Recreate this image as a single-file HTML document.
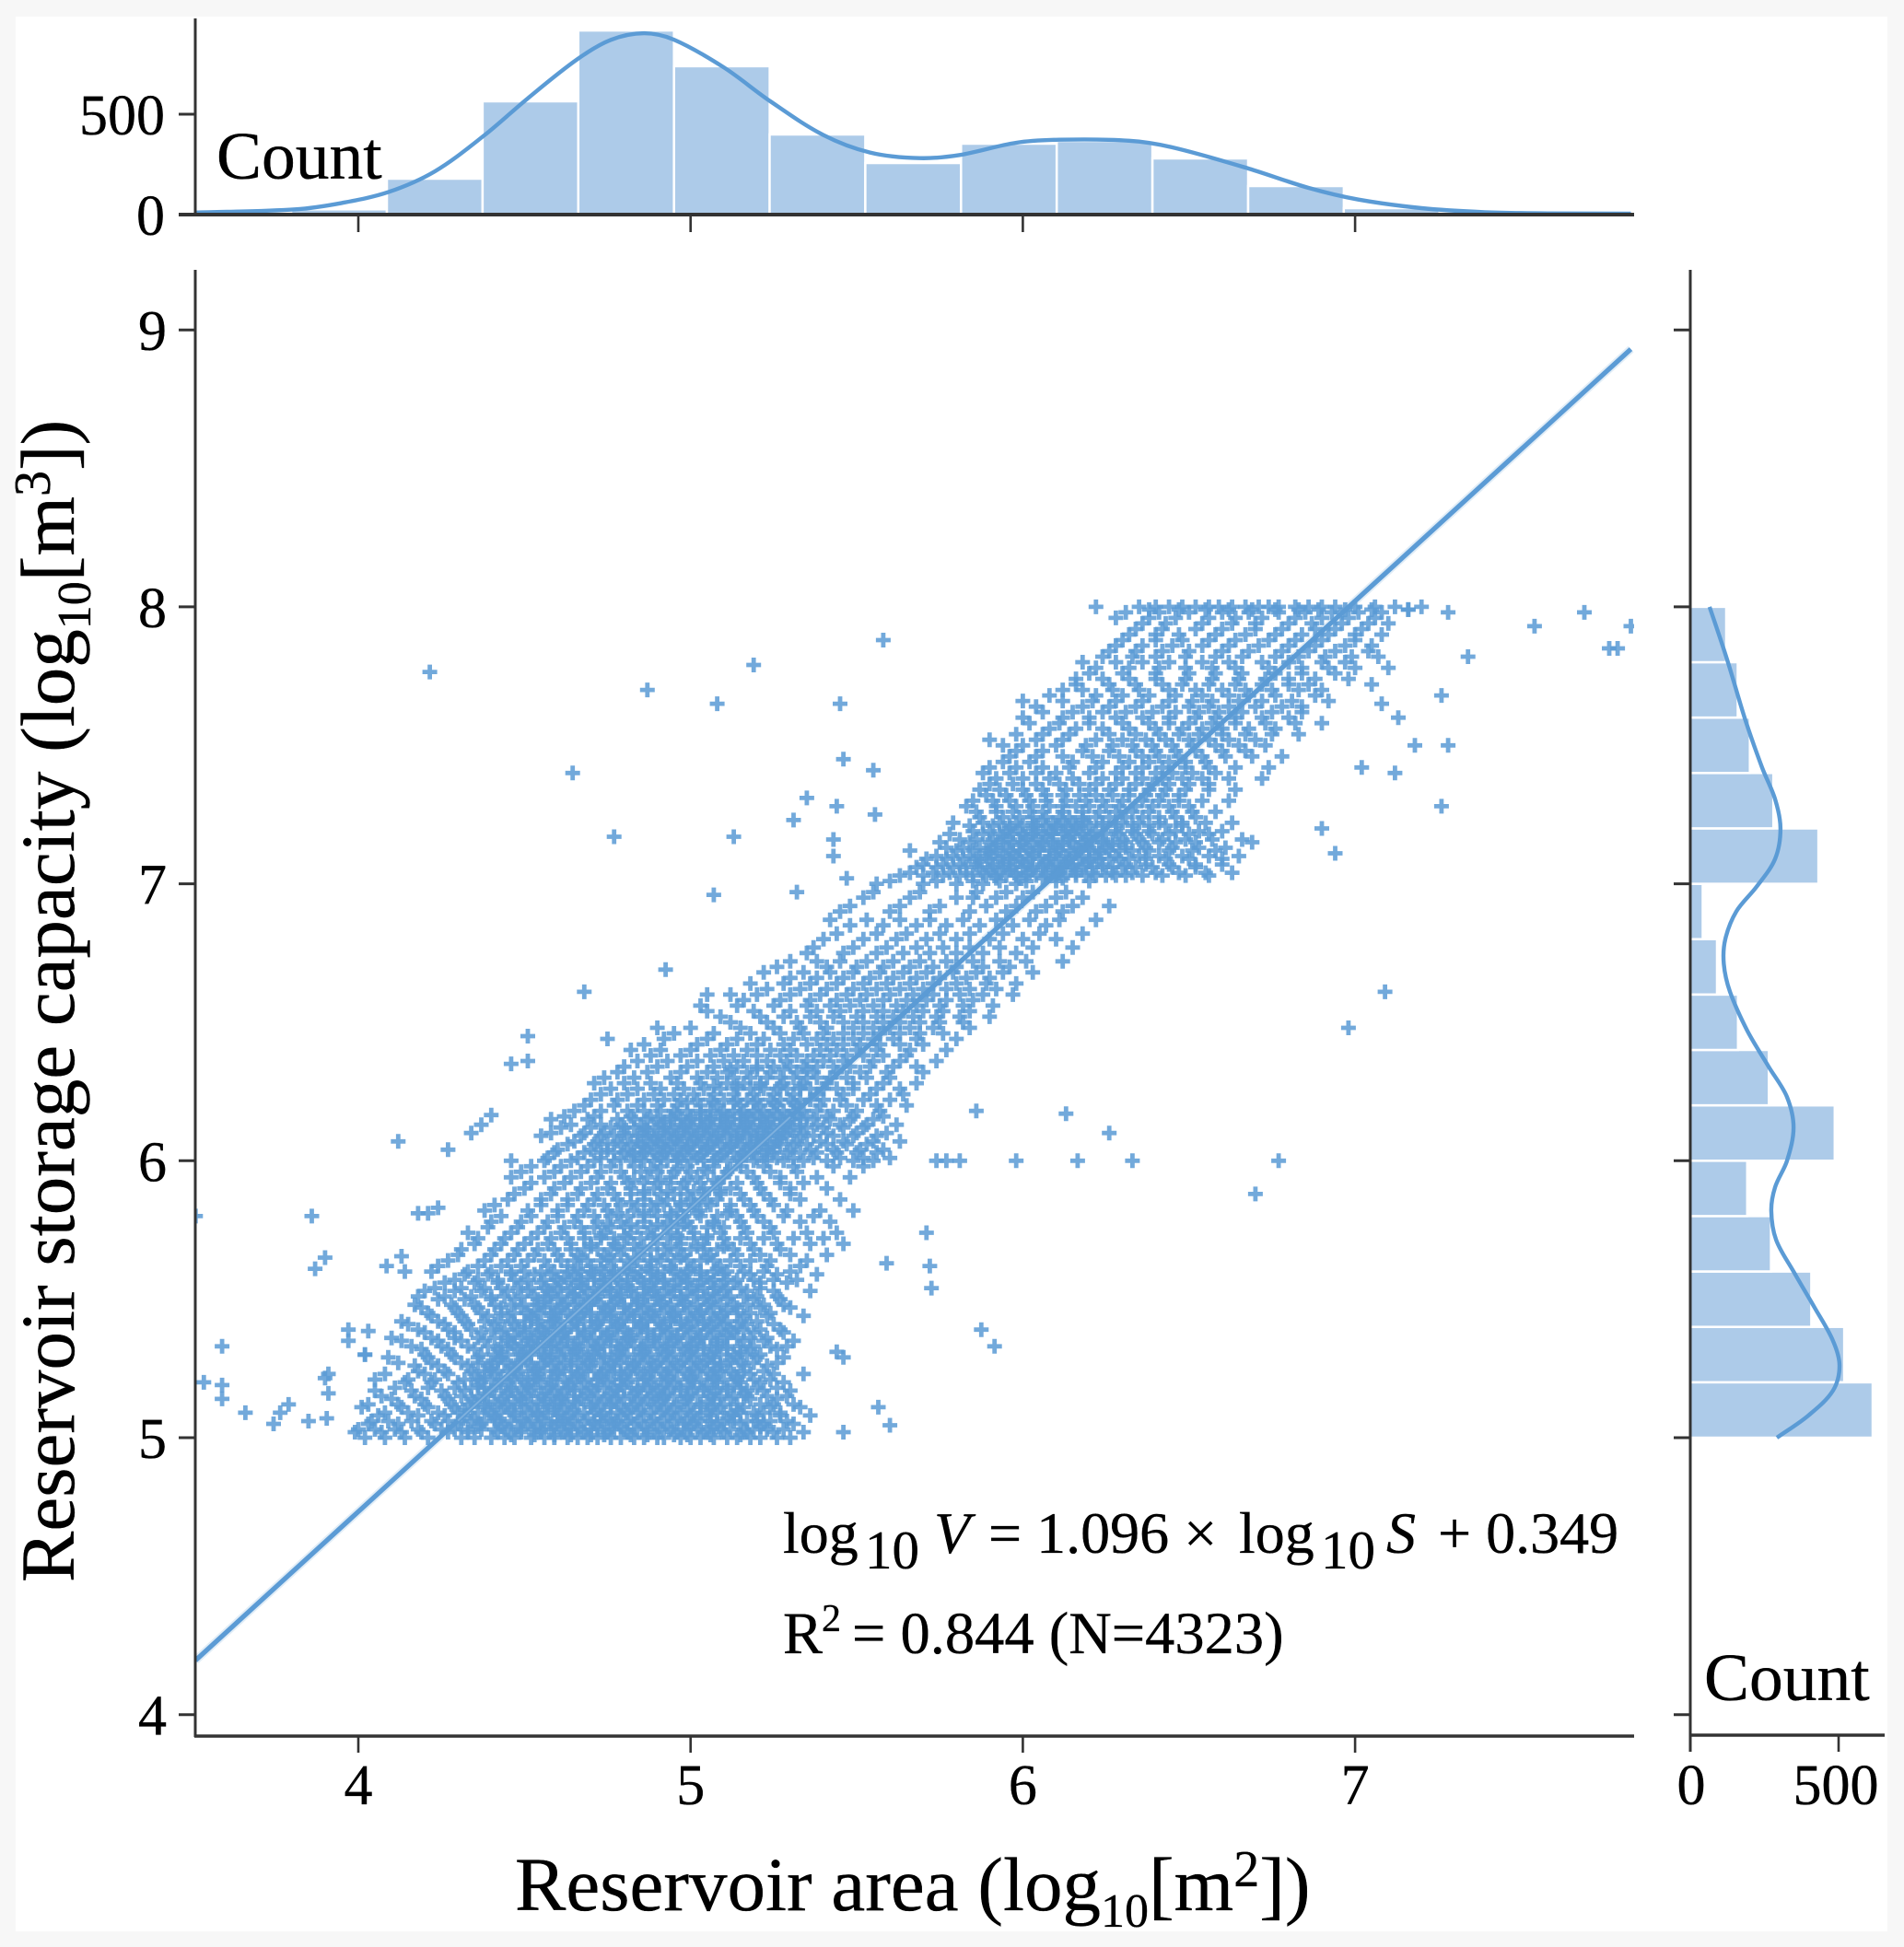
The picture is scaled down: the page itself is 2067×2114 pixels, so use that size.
<!DOCTYPE html>
<html lang="en">
<head>
<meta charset="utf-8">
<title>Reservoir area vs storage capacity</title>
<style>
html,body{margin:0;padding:0;background:#f7f7f7;}
svg{display:block;}
text{font-family:"Liberation Serif","DejaVu Serif",serif;fill:#000;stroke:#000;stroke-width:0.35px;}
</style>
</head>
<body>
<svg id="chart" xmlns="http://www.w3.org/2000/svg" width="2067" height="2114" viewBox="0 0 2067 2114">
  <rect x="0" y="0" width="2067" height="2114" fill="#f7f7f7"/>
  <rect x="17" y="18" width="2032" height="2079" fill="#ffffff"/>
  <defs>
    <clipPath id="main-clip"><rect x="212" y="293" width="1562" height="1592"/></clipPath>
  </defs>
  <g id="top-bars"></g>
  <g id="right-bars"></g>
  <g id="scatter" clip-path="url(#main-clip)"></g>
  <g id="fit" clip-path="url(#main-clip)"></g>
  <g id="kde"></g>
  <g id="axes"></g>

  <text x="235" y="194" font-size="73.5">Count</text>
  <text x="1850" y="1846" font-size="73.5">Count</text>

  <text x="559" y="2074" font-size="83">Reservoir area (log<tspan dy="18" font-size="52">10</tspan><tspan dy="-18">[m</tspan><tspan dy="-26" font-size="56">2</tspan><tspan dy="26">])</tspan></text>
  <text transform="translate(80,1718) rotate(-90)" font-size="83">Reservoir storage capacity (log<tspan dy="18" font-size="52">10</tspan><tspan dy="-18">[m</tspan><tspan dy="-26" font-size="56">3</tspan><tspan dy="26">])</tspan></text>

  <g font-size="64">
    <text x="850" y="1686">log</text>
    <text x="939" y="1703" font-size="59">10</text>
    <text x="1014" y="1686" font-style="italic">V</text>
    <text x="1073" y="1686">= 1.096 ×</text>
    <text x="1345" y="1686">log</text>
    <text x="1434" y="1703" font-size="59">10</text>
    <text x="1505" y="1686" font-style="italic">S</text>
    <text x="1561" y="1686">+ 0.349</text>
  </g>
  <g font-size="64.5">
    <text x="850" y="1795">R</text>
    <text x="892" y="1771" font-size="42">2</text>
    <text x="925" y="1795">= 0.844 (N=4323)</text>
  </g>
</svg>

<script>
// ---- Histogram counts ----
const topBinStart = 3.51;
const topBinWidth = 0.288;
const topCounts = [4, 26, 179, 564, 917, 739, 399, 257, 353, 367, 280, 142, 32, 6, 2];
const rightBinStart = 5.0;
const rightBinWidth = 0.2;
const rightCounts = [615, 519, 408, 272, 192, 487, 265, 161, 90, 42, 432, 280, 201, 160, 121];

// ---- KDE curves ----
const topKdeX = [3.51,3.81,3.95,4.09,4.23,4.38,4.51,4.66,4.76,4.86,4.95,5.10,5.24,5.40,5.54,5.69,5.81,5.98,6.11,6.32,6.45,6.68,6.86,7.01,7.20,7.39,7.58,7.83];
const topKdeCount = [10,26,58,112,215,396,579,775,870,903,871,733,564,396,309,281,297,358,373,368,335,229,133,75,32,12,6,5];
const rightKdeY = [8.0,7.81,7.59,7.42,7.305,7.20,7.09,6.99,6.90,6.80,6.71,6.61,6.47,6.34,6.23,6.12,6.0,5.905,5.82,5.715,5.60,5.47,5.35,5.26,5.17,5.08,5.0];
const rightKdeCount = [65,124,186,242,286,304,286,224,155,118,113,134,192,264,326,348,326,286,273,289,348,419,481,503,481,398,292];

// ---- Regression as printed in the figure ----
const fitSlope = 1.096;
const fitIntercept = 0.349;

// ---- Tick labels ----
const mainXTicks = [4, 5, 6, 7];
const mainYTicks = [4, 5, 6, 7, 8, 9];
const topYTicks = [0, 500];
const rightXTicks = [0, 500];

// ---- Scattered outliers (log10 area, log10 capacity) ----
const outlierX = [4.215,4.87,5.08,5.19,5.58,5.45,5.46,5.55,4.645,5.35,5.44,5.555,4.77,5.13,5.31,5.43,5.43,5.07,5.32,5.47,4.925,4.68,5.05,4.75,4.51,4.51,4.46,7.09,6.98,6.77,6.70,6.33,6.26,6.13,6.165,5.98,5.86,5.74,5.77,5.81,5.71,5.72,5.725,5.59,5.875,5.915,5.565,5.60,5.46,5.46,5.44,3.51,3.86,3.90,3.87,3.59,3.535,3.59,3.59,3.66,3.745,3.765,3.79,3.85,3.91,3.91,3.90,3.905,3.97,4.03,3.97,4.02,4.12,4.085,4.13,4.14,4.18,4.21,4.24,4.18,4.27,4.34,4.40,4.37,7.54,7.69,7.765,7.79,7.83,7.34,7.28,7.20,7.16,7.26,7.08,7.28,7.18,7.12,7.26,7.02,6.94,6.90,6.69,7.05,7.10,7.13];
const outlierY = [7.765,7.70,7.65,7.79,7.88,7.65,7.45,7.41,7.40,7.31,7.28,7.25,7.17,7.17,7.23,7.16,7.10,6.96,6.97,7.02,6.69,6.61,6.60,6.44,6.45,6.36,6.35,6.61,6.48,6.00,5.88,6.00,6.10,6.17,6.00,6.00,6.18,6.00,6.00,6.00,5.74,5.62,5.54,5.63,5.39,5.33,5.11,5.045,5.02,5.29,5.31,5.80,5.80,5.65,5.61,5.33,5.20,5.19,5.14,5.09,5.05,5.09,5.12,5.06,5.16,5.23,5.215,5.07,5.39,5.385,5.35,5.30,6.07,5.62,5.655,5.60,5.51,5.81,5.83,5.81,6.04,6.10,6.165,6.13,7.93,7.98,7.85,7.85,7.93,7.82,7.98,8.00,7.99,7.68,7.65,7.50,7.50,7.40,7.28,7.42,7.11,7.20,7.15,7.72,7.78,7.60];

// ---- Main point cloud, first pass: capacity levels (hundredths of log10 units) ----
const scatterLevels = [500,503,506,509,512,515,518,521,524,527,530,533,536,539,542,545,548,551,554,557,560,564,568,572,576,580,584,588,592,596,600,603,606,609,612,615,618,622,626,630,634,638,642,646,650,654,658,662,666,670,675,680,685,690,695,700,703,706,709,712,715,718,721,724,728,732,736,740,744,748,752,756,760,764,768,772,776,780,784,788,792,796,800];
// ---- Area estimates at each capacity level (hundredths of log10 units) ----
const scatterAreas = [
[402,408,414,421,431,435,440,444,447,452,456,459,463,466,469,472,476,479,483,486,490,492,497,500,503,507,511,514,518,521,526,530],
[400,405,411,418,425,429,433,437,441,445,449,453,455,458,461,464,467,470,474,477,480,484,487,491,494,498,502,505,509,512,516,519,523,528],
[404,409,416,422,427,431,434,438,442,446,450,452,456,460,462,465,468,471,473,476,478,481,485,488,492,495,499,503,506,510,513,517,520,524,529],
[408,415,424,430,436,440,443,447,451,454,457,461,464,468,471,474,478,481,484,488,491,494,497,501,505,508,512,515,519,522,527],
[403,412,420,428,433,438,442,445,449,452,456,459,463,466,470,473,476,479,483,486,490,493,496,500,503,507,510,514,521,525,531],
[407,417,426,431,436,439,444,448,451,455,458,461,465,468,472,475,478,482,485,488,492,495,499,502,506,509,513,517,523,529],
[411,421,429,434,438,441,446,449,453,457,460,463,467,470,474,477,480,484,487,491,494,497,501,504,508,511,515,520,526],
[405,415,423,432,436,440,443,447,451,454,458,462,465,469,472,476,479,482,486,489,493,496,500,503,507,510,514,519,524],
[418,426,434,438,442,445,449,453,456,460,464,467,471,474,477,481,484,488,491,495,498,502,505,509,512,516,522],
[412,422,431,436,440,444,448,451,455,459,462,466,469,473,476,479,483,486,490,493,497,500,504,507,511,515,519,526],
[402,420,428,437,441,445,449,452,456,460,464,467,471,474,478,481,485,488,492,495,499,502,506,509,513,517,521],
[416,425,433,439,443,447,451,454,458,461,465,469,472,476,479,483,486,490,493,497,500,504,508,511,515,519,524,529],
[410,422,429,436,441,445,449,453,456,460,463,467,471,474,478,481,485,489,492,496,499,503,506,510,514,518,523],
[418,427,434,440,444,448,452,455,459,462,466,470,473,477,480,484,487,491,494,498,502,505,509,512,516,521,527],
[413,424,432,438,442,446,450,454,458,461,465,468,472,476,479,483,486,490,494,497,501,504,508,511,515,520],
[421,430,437,443,447,451,455,459,463,467,470,474,477,481,485,488,492,495,499,503,506,510,514,518,524],
[417,428,435,441,446,450,454,458,462,465,469,473,476,480,484,487,491,494,498,502,505,509,513,517,522,528],
[426,434,440,444,449,453,457,461,465,468,472,476,479,483,487,490,494,497,501,505,508,512,516,520,526],
[423,431,438,443,448,452,456,460,464,468,471,475,478,482,486,489,493,497,500,504,507,511,515,521],
[429,436,442,447,451,456,460,464,467,471,474,478,481,485,489,492,496,499,503,507,510,514,519,525,532],
[422,433,440,446,450,455,459,463,467,470,474,477,481,485,488,492,495,499,503,507,511,516,522,530],
[427,438,445,451,456,461,465,469,473,477,481,484,488,491,495,499,503,507,512,518,524,535],
[431,441,448,454,459,464,468,472,476,480,484,488,492,496,500,504,508,513,519,527],
[436,444,452,458,463,468,473,477,481,485,489,493,497,501,505,510,515,522,531,540],
[439,448,456,462,467,471,476,480,484,488,492,496,500,505,510,516,524],
[443,452,460,466,471,476,481,486,490,494,498,503,508,514,520,528,537],
[441,455,463,469,474,479,484,488,492,497,501,506,512,518,525],
[447,458,466,472,477,482,486,491,495,499,504,509,515,522,530],
[452,462,470,476,481,486,490,494,498,503,508,514,520,527,534],
[449,459,467,473,479,485,490,495,500,505,511,517,524,532],
[446,456,464,471,477,482,486,489,493,496,500,504,507,511,515,519,523,528,534,541,549,555],
[459,468,473,477,480,483,486,489,492,495,498,501,504,507,510,513,516,519,522,525,529,533,538,544,550,556],
[463,471,475,479,482,485,488,491,494,497,500,503,506,509,512,515,518,521,524,527,531,535,541,547,553],
[455,467,473,477,481,484,487,490,493,496,499,502,505,508,511,514,517,520,523,526,529,533,537,543,549,556],
[461,470,476,480,483,486,489,492,495,498,501,504,507,510,513,516,519,522,525,528,531,535,540,546,552],
[458,469,478,483,487,490,494,497,500,503,506,509,512,515,518,521,524,527,530,533,537,542,548,555],
[465,473,481,486,491,495,499,503,506,510,513,516,519,522,525,528,531,534,538,543,550,557],
[470,478,486,492,497,502,506,510,514,517,520,524,527,530,533,536,540,545,552,560],
[476,484,491,498,504,509,514,518,522,526,529,533,536,540,544,549,556,563],
[474,483,494,502,508,513,518,523,527,531,535,538,542,547,553,560],
[480,490,499,507,514,520,525,530,534,538,543,548,554,561,568],
[488,497,506,513,520,527,532,537,542,547,552,558,565],
[486,502,511,520,528,535,541,546,551,557,563,570],
[495,507,518,527,534,540,546,552,557,563,569,576],
[512,523,532,539,546,552,558,563,569,575,582],
[505,519,530,538,545,552,558,564,570,576,584],
[516,527,536,544,551,558,565,571,577,585],
[523,533,541,549,556,563,570,577,584,592],
[530,538,546,554,561,568,575,583,590],
[526,541,550,558,566,573,580,588,596],
[535,546,556,564,572,580,588,598],
[540,552,562,571,580,590,600,610],
[548,558,568,577,587,597,607],
[545,560,572,584,595,604,612],
[552,566,580,592,585,600,610,618],
[556,570,580,588,598],
[563,570,576,581,585,589,592,595,598,601,604,607,610,613,616,619,622,625,628,631,636,642,649,656],
[568,574,579,583,587,591,594,597,600,603,606,609,612,615,618,621,624,627,630,634,639,645,652],
[571,577,582,586,590,593,596,599,602,605,608,611,614,617,620,623,626,629,632,637,643,650,660],
[566,580,585,589,592,596,599,602,605,608,611,614,617,620,623,626,629,633,638,644,651,658],
[575,584,590,594,597,600,603,606,609,612,615,618,621,624,627,631,636,641,646,652],
[578,588,593,597,600,603,606,609,612,615,618,621,625,629,634,639,644,650,656],
[584,591,596,600,604,607,610,613,616,620,624,628,633,638,643,648],
[587,594,599,603,607,611,614,618,622,626,631,636,641,646,652],
[583,592,598,603,608,612,616,620,625,629,634,639,644,650],
[589,595,601,607,612,617,622,627,632,637,642,647],
[590,597,604,611,617,622,628,634,639,644,650,656],
[588,596,604,610,620,628,634,640,645,651,658],
[594,602,615,624,632,638,644,649,655],
[598,606,618,626,634,640,646,652,660,667],
[590,604,612,622,630,637,643,650,656,662,670],
[608,616,624,632,640,648,654,660,668,676],
[600,612,620,628,636,644,652,658,664,672,680],
[604,618,626,634,642,650,656,662,670,678,684],
[608,622,630,638,646,654,662,668,676,688],
[616,626,634,642,648,656,664,672,680,686],
[620,630,640,650,658,666,676,684,694],
[618,628,636,644,654,662,672,680,690,697],
[626,634,642,650,660,668,678,686,694,704],
[630,640,648,656,664,674,682,690,700],
[634,642,652,660,670,678,688,694,702],
[628,638,646,656,664,672,682,690,698,706],
[622,635,640,644,648,652,656,659,663,667,671,674,677,682,686,690,694,700,706,712]
];

// ---- Main point cloud, second pass: each row is [capacity level, then areas], in hundredths ----
const scatterRowsB = [
[502,399,407,413,419,427,433,442,449,455,462,468,475,481,489,496,504,510,517,525,534],
[505,403,412,423,430,437,444,451,458,463,471,477,483,490,498,501,508,515,522,531],
[508,406,418,426,432,441,447,454,460,466,473,479,486,493,500,506,513,520,527,536],
[511,401,413,421,429,438,444,450,457,462,470,476,482,489,495,503,509,516,524,533],
[514,410,419,427,434,443,449,456,461,467,474,480,487,492,499,507,512,518,526],
[517,405,416,425,432,440,446,452,459,465,471,478,484,490,497,504,511,517,522,530],
[520,414,422,430,437,445,450,455,463,468,475,481,488,495,501,508,515,521,528],
[523,408,420,427,435,441,448,454,460,466,473,479,485,492,499,506,513,518,525,534],
[526,417,424,433,439,446,452,458,464,470,477,483,489,496,503,509,516,523],
[529,409,421,429,436,443,450,456,461,468,474,480,487,494,501,507,514,520,528],
[532,419,427,435,442,448,455,462,466,472,479,485,491,498,504,511,518,526],
[535,413,424,431,438,445,451,457,463,470,476,482,489,495,502,508,516,522,531],
[538,420,429,437,443,450,456,462,468,475,481,487,493,500,507,513,519,528],
[541,415,426,433,441,447,454,460,466,472,478,485,491,497,504,510,517,525],
[544,422,431,439,445,452,458,464,470,476,483,489,495,502,509,516,523,534],
[547,419,429,436,443,449,456,461,467,474,480,486,493,500,507,514,521,530],
[550,424,432,440,447,454,460,466,471,478,484,490,497,504,511,519,527],
[553,420,429,437,445,451,457,463,469,476,482,489,495,502,510,517,525,536],
[556,426,435,442,449,455,461,466,473,479,486,492,499,506,513,521,529],
[559,432,439,446,453,458,465,471,477,483,490,497,503,510,518,526,538],
[562,424,436,443,449,457,463,470,476,482,488,494,501,509,515,523,533],
[566,430,440,447,453,460,466,474,479,486,493,498,506,514,521,530,541],
[570,435,443,450,457,464,470,477,483,490,497,504,511,518,526,536,546],
[574,433,446,454,461,468,474,482,487,494,501,509,517,525,535,544],
[578,440,449,457,465,472,479,486,493,499,507,515,522,533,542],
[582,438,451,460,468,475,483,489,496,503,512,519,529,539,549],
[586,445,455,463,471,478,486,493,500,508,516,524,533,545],
[590,450,459,467,475,482,489,497,504,512,521,530,541],
[594,446,456,464,472,480,487,494,502,510,519,527,538,548],
[598,452,461,469,476,483,491,499,507,515,522,531,543,552],
[601,457,466,473,479,485,491,497,502,508,514,520,526,531,537,545,552,560],
[604,460,470,475,481,487,493,499,505,511,517,523,530,536,543,551,558],
[607,465,472,478,484,490,496,502,508,514,520,526,532,539,546,555,563],
[610,458,468,474,480,486,492,498,504,510,516,522,528,534,541,550,559],
[613,464,473,479,485,491,497,503,509,515,521,527,533,538,545,553,562],
[616,462,471,482,488,494,500,506,511,517,523,529,535,541,549,558],
[620,468,477,484,490,496,503,508,515,521,526,532,539,547,556,565],
[624,473,481,489,495,501,507,513,519,525,531,538,546,554,564],
[628,471,480,488,496,503,511,516,521,528,534,541,549,558,568],
[632,478,487,497,505,511,517,524,532,537,544,551,559,570],
[636,484,493,502,510,516,523,529,535,540,546,555,563,574],
[640,482,491,500,509,517,524,530,539,544,550,556,566,577],
[644,492,505,514,522,531,538,543,549,555,561,568,580],
[648,490,500,515,525,533,541,549,555,560,566,573,584],
[652,509,521,528,536,543,550,556,561,567,574,581,590],
[656,503,514,525,535,542,548,555,562,568,575,582,591],
[660,512,520,530,539,547,553,560,567,573,581,588,597],
[664,518,528,536,544,552,559,566,573,580,589,598],
[668,522,534,542,549,557,564,571,579,586,594,603],
[672,530,538,545,553,561,569,577,585,593,601,612],
[677,537,549,559,568,576,584,593,603,615],
[682,544,556,565,575,584,594,605,618],
[687,542,553,563,572,582,592,602,611,622],
[692,548,563,575,589,598,607,615,626],
[697,555,569,586,595,603,613],
[701,560,574,585,593,601,610,620],
[704,566,573,578,583,588,593,598,602,607,611,616,621,627,633,640,647,655,663],
[707,570,576,581,586,591,596,601,606,610,615,619,624,631,637,644,652,660],
[710,574,579,584,589,594,598,603,608,613,618,622,628,635,641,648,656,665],
[713,577,582,587,591,595,601,605,610,616,620,625,631,637,645,653,661],
[716,581,586,591,596,601,604,609,614,619,624,630,635,642,649,657,666],
[719,585,590,595,599,604,608,613,617,622,628,633,638,646,653,660],
[722,579,588,593,598,603,609,615,619,624,630,635,641,648,655,663],
[726,586,592,597,602,606,612,618,623,628,633,638,645,651,658],
[730,585,591,596,602,607,613,619,624,630,636,641,647,654,662],
[734,587,593,600,606,613,620,626,632,638,643,649,656,664],
[738,592,600,608,615,624,630,636,642,648,654,662,672],
[742,590,598,606,614,622,630,636,642,649,656,664,674],
[746,596,604,612,621,629,636,641,647,654,661,669,678],
[750,594,600,610,619,627,633,639,645,651,658,665,673],
[754,598,606,614,626,634,641,647,653,660,667,675,683],
[758,602,611,620,630,638,644,650,657,664,673,682,690],
[762,606,615,624,631,639,646,653,659,666,675,684],
[766,600,612,621,628,636,644,651,657,665,672,681,692],
[770,612,618,627,635,644,652,660,667,675,683,690],
[774,616,624,632,640,649,657,665,673,680,688,698],
[778,622,632,641,649,657,664,674,684,692,700],
[782,624,633,640,649,658,666,676,683,691,699,707],
[786,628,636,645,654,662,671,680,688,697,705],
[790,632,640,647,658,667,676,684,692,700,708],
[794,636,643,654,663,670,680,687,696,704,710],
[798,631,641,650,660,668,677,685,693,701,708],
[799,638,647,655,662,669,676,683,689,697,705,716]
];

// ---- Main point cloud, third pass over the dense clusters: [capacity level, then areas], in hundredths ----
const scatterRowsC = [
[501,446,453,459,464,470,474,482,487,495,499,506,515],
[504,436,443,448,454,459,466,472,479,486,493,500,507,521],
[507,435,441,449,455,463,469,475,482,489,496,502,511],
[510,432,439,446,453,459,465,472,480,485,492,499,506,514],
[513,435,441,447,454,460,465,471,477,484,491,498,505],
[516,438,445,450,456,462,469,476,483,489,493,500,507,516],
[519,436,443,451,458,464,472,479,486,492,499,505,513],
[522,438,446,453,459,466,473,480,487,493,500,507,514],
[525,440,447,454,461,468,475,482,488,494,501,508],
[528,442,449,457,464,470,477,484,491,498,505,512],
[531,443,450,458,465,471,478,486,493,500,507,515],
[534,446,452,459,466,473,480,487,494,501,508],
[537,447,454,461,468,475,482,489,496,503,511],
[540,450,457,464,471,478,485,492,499,506,514],
[543,452,459,466,473,480,487,494,500,507],
[546,453,460,468,475,482,489,496,503,511],
[549,456,463,470,477,484,491,498,506],
[552,458,465,472,479,486,492,499,507],
[555,459,467,474,481,488,495,502,509],
[558,462,469,476,484,490,498,505],
[561,466,473,480,487,494,500,508],
[565,467,475,483,490,497,505],
[569,470,478,486,494,502,510],
[573,473,480,489,496,505],
[577,475,482,490,498,507],
[581,478,486,494,502,511],
[585,482,490,497,505],
[589,486,493,501,509],
[593,483,491,499,507],
[597,488,496,504,512],
[602,483,490,496,503,509,516,523],
[605,486,492,499,505,512,518,525],
[608,489,495,501,507,514,520,527],
[611,487,494,500,506,512,518,524,530],
[614,492,499,505,511,517,523,529],
[617,496,503,509,515,520,526,532],
[621,499,507,513,519,525,531],
[627,507,514,521,527,533],
[633,512,520,528,535],
[702,592,599,606,612],
[705,590,596,603,609,616],
[708,587,594,600,607,613,620],
[711,590,597,603,610,616,623],
[714,592,599,606,612,619,627],
[717,594,601,607,614,620],
[720,596,603,610,616],
[723,606,612,618]
];

// ---- Axis functions ----
const NS = 'http://www.w3.org/2000/svg';
const BLUE = '#5b9bd5';
const BAR = '#adcbe9';
const AXIS = '#333333';
function xMain(v){ return 389 + (v - 4) * 360.7; }
function yMain(v){ return 1561 - (v - 5) * 300.7; }
function yTop(c){ return 233 - c * 0.218; }
function xRight(c){ return 1835 + c * 0.322; }

function make(tag, attrs, parent){
  const el = document.createElementNS(NS, tag);
  for (const k in attrs) el.setAttribute(k, attrs[k]);
  parent.appendChild(el);
  return el;
}
function chord(a, b){ return Math.hypot(b[0] - a[0], b[1] - a[1]) || 1; }
function smooth(pts){
  const tangents = pts.map(function(p, i){
    const a = pts[Math.max(i - 1, 0)], b = pts[Math.min(i + 1, pts.length - 1)];
    const len = chord(a, b);
    return [(b[0] - a[0]) / len, (b[1] - a[1]) / len];
  });
  let d = 'M' + pts[0][0].toFixed(1) + ' ' + pts[0][1].toFixed(1);
  for (let i = 0; i < pts.length - 1; i++){
    const p1 = pts[i], p2 = pts[i + 1], s = chord(p1, p2) / 3;
    d += 'C' + (p1[0] + tangents[i][0] * s).toFixed(1) + ' ' + (p1[1] + tangents[i][1] * s).toFixed(1) + ' ' + (p2[0] - tangents[i + 1][0] * s).toFixed(1) + ' ' + (p2[1] - tangents[i + 1][1] * s).toFixed(1) + ' ' + p2[0].toFixed(1) + ' ' + p2[1].toFixed(1);
  }
  return d;
}

// ---- Histograms ----
const topG = document.getElementById('top-bars');
topCounts.forEach(function(c, i){
  const x0 = xMain(topBinStart + i * topBinWidth);
  const x1 = xMain(topBinStart + (i + 1) * topBinWidth);
  const r = make('rect', {x: x0.toFixed(1), y: yTop(c).toFixed(1), width: (x1 - x0).toFixed(1), height: (yTop(0) - yTop(c)).toFixed(1), fill: BAR, stroke: '#ffffff', 'stroke-width': 2.5}, topG);
  
  
});
const rightG = document.getElementById('right-bars');
rightCounts.forEach(function(c, i){
  const y0 = yMain(rightBinStart + i * rightBinWidth);
  const y1 = yMain(rightBinStart + (i + 1) * rightBinWidth);
  const r = make('rect', {x: xRight(0).toFixed(1), y: y1.toFixed(1), width: (xRight(c) - xRight(0)).toFixed(1), height: (y0 - y1).toFixed(1), fill: BAR, stroke: '#ffffff', 'stroke-width': 2.5}, rightG);
  
  
});

// ---- Scatter ----
const scatterG = document.getElementById('scatter');
function plus(areaValue, capacityValue){
  const cx = xMain(areaValue), cy = yMain(capacityValue);
  const d = 'M' + (cx - 8).toFixed(1) + ' ' + cy.toFixed(1) + 'h16M' + cx.toFixed(1) + ' ' + (cy - 8).toFixed(1) + 'v16';
  const p = make('path', {d: d, stroke: BLUE, 'stroke-width': 4.8, 'stroke-opacity': 0.86, fill: 'none'}, scatterG);
  
  
}
scatterLevels.forEach(function(level, i){
  (scatterAreas[i] || []).forEach(function(a){ plus(a / 100, level / 100); });
});
scatterRowsB.forEach(function(row){
  row.slice(1).forEach(function(a){ plus(a / 100, row[0] / 100); });
});
scatterRowsC.forEach(function(row){
  row.slice(1).forEach(function(a){ plus(a / 100, row[0] / 100); });
});
outlierX.forEach(function(x, i){ plus(x, outlierY[i]); });

// ---- Regression line ----
const fitG = document.getElementById('fit');
function fitValue(v){ return fitSlope * v + fitIntercept; }
const fitXMin = 3.51, fitXMax = 7.83;
const band = make('line', {x1: xMain(fitXMin), y1: yMain(fitValue(fitXMin)), x2: xMain(fitXMax), y2: yMain(fitValue(fitXMax)), stroke: BLUE, 'stroke-opacity': 0.18, 'stroke-width': 9}, fitG);


const fitLine = make('line', {x1: xMain(fitXMin), y1: yMain(fitValue(fitXMin)), x2: xMain(fitXMax), y2: yMain(fitValue(fitXMax)), stroke: BLUE, 'stroke-width': 5.2}, fitG);


const fitStreak = make('line', {x1: xMain(4.3), y1: yMain(fitValue(4.3)), x2: xMain(5.3), y2: yMain(fitValue(5.3)), stroke: '#ffffff', 'stroke-opacity': 0.22, 'stroke-width': 1.8}, fitG);



// ---- KDE curves ----
const kdeG = document.getElementById('kde');
const topKdePath = make('path', {d: smooth(topKdeX.map(function(x, i){ return [xMain(x), yTop(topKdeCount[i])]; })), fill: 'none', stroke: BLUE, 'stroke-width': 4.4}, kdeG);


const rightKdePath = make('path', {d: smooth(rightKdeY.map(function(y, i){ return [xRight(rightKdeCount[i]), yMain(y)]; })), fill: 'none', stroke: BLUE, 'stroke-width': 4.4}, kdeG);



// ---- Axes ----
const axesG = document.getElementById('axes');
function axisLine(name, x1, y1, x2, y2, w){
  const l = make('line', {x1: x1, y1: y1, x2: x2, y2: y2, stroke: AXIS, 'stroke-width': w}, axesG);
  
  
}
function label(name, x, y, anchor, content){
  const t = make('text', {x: x, y: y, 'text-anchor': anchor, 'font-size': 62}, axesG);
  t.textContent = content;
  
  
}
axisLine('top-y-axis', 212, 20, 212, 234, 3);
axisLine('top-x-axis', 194, 233, 1774, 233, 4);
axisLine('main-y-axis', 212, 293, 212, 1886, 3);
axisLine('main-x-axis', 211, 1885, 1774, 1885, 3.6);
axisLine('right-y-axis', 1835, 293, 1835, 1902, 3);
axisLine('right-x-axis', 1834, 1884, 2046, 1884, 3.6);

mainXTicks.forEach(function(v){
  axisLine('top-x-tick', xMain(v), 233, xMain(v), 252, 2.6);
  axisLine('main-x-tick', xMain(v), 1885, xMain(v), 1903, 2.6);
  label('x-tick-label', xMain(v), 1959, 'middle', String(v));
});
mainYTicks.forEach(function(v){
  axisLine('main-y-tick', 194, yMain(v), 212, yMain(v), 3);
  axisLine('right-y-tick', 1817, yMain(v), 1835, yMain(v), 3);
  label('y-tick-label', 181, yMain(v) + 22, 'end', String(v));
});
topYTicks.forEach(function(c){
  axisLine('top-y-tick', 194, yTop(c), 212, yTop(c), 3);
  label('top-y-tick-label', 179, yTop(c) + 22, 'end', String(c));
});
rightXTicks.forEach(function(c){
  axisLine('right-x-tick', xRight(c), 1884, xRight(c), 1902, 2.6);
  label('right-x-tick-label', xRight(c) - (c === 0 ? -1 : 3), 1959, 'middle', String(c));
});
</script>
</body>
</html>
